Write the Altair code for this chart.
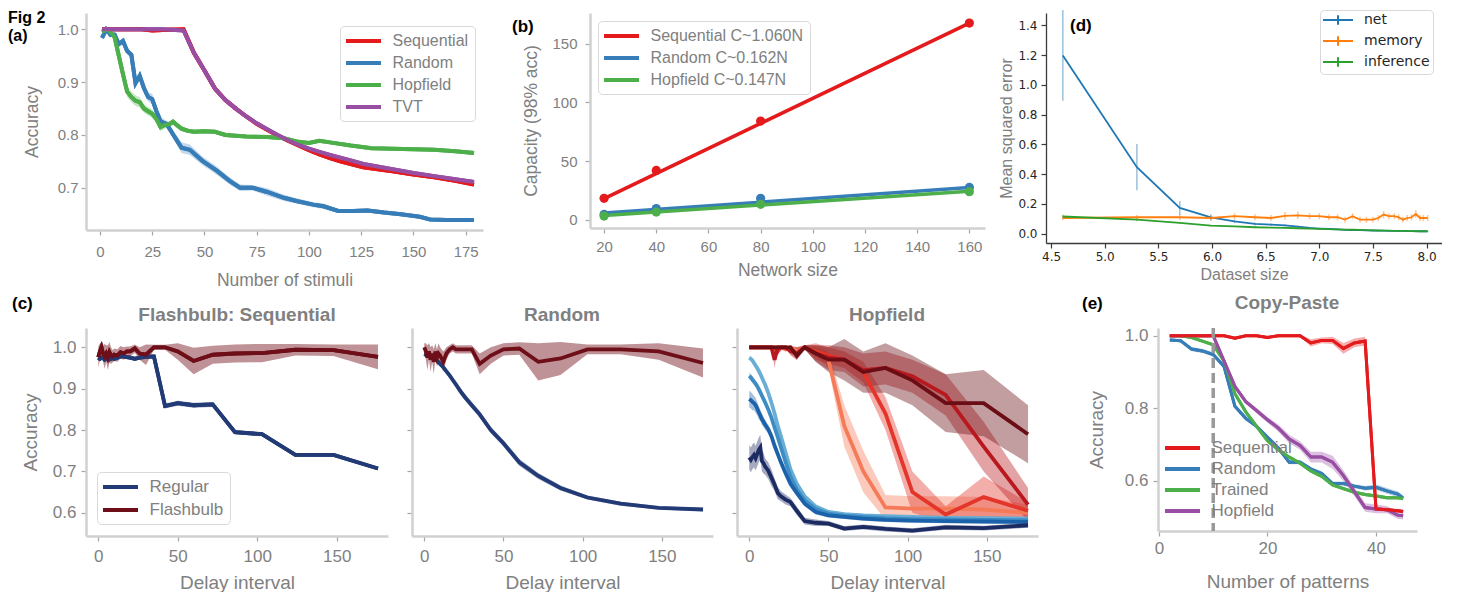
import altair as alt
import pandas as pd

FONT = "Liberation Sans"
GRAY = "#808080"
RED, BLUE, GREEN, PURPLE = "#e41a1c", "#377eb8", "#4daf4a", "#984ea3"

# ---------------- (a) Accuracy vs number of stimuli ----------------
A_NAMES = ["Sequential", "Random", "Hopfield", "TVT"]
A_XTICKS = [0, 25, 50, 75, 100, 125, 150, 175]
A_YTICKS = [0.7, 0.8, 0.9, 1.0]
A_SEQ_X = [1, 10, 20, 25, 30, 40, 45, 50, 55, 60, 65, 70, 75, 80, 85, 90, 95, 100, 105, 110, 115, 120, 126, 140, 150, 160, 170, 179]
A_SEQ_Y = [1.0, 1.0, 1.0, 0.998, 0.999, 1.0, 0.955, 0.922, 0.888, 0.866, 0.85, 0.835, 0.821, 0.81, 0.799, 0.789, 0.78, 0.771, 0.763, 0.756, 0.75, 0.745, 0.739, 0.731, 0.725, 0.72, 0.713, 0.706]
A_SEQ_E = [0.0, 0.0, 0.0, 0.002, 0.002, 0.0, 0.003, 0.003, 0.003, 0.003, 0.003, 0.003, 0.003, 0.003, 0.003, 0.003, 0.003, 0.003, 0.003, 0.003, 0.003, 0.003, 0.003, 0.003, 0.003, 0.003, 0.003, 0.003]
A_TVT_Y = [1.0, 1.0, 1.0, 1.0, 1.0, 0.998, 0.955, 0.922, 0.888, 0.866, 0.85, 0.835, 0.822, 0.811, 0.8, 0.79, 0.781, 0.774, 0.768, 0.762, 0.757, 0.752, 0.745, 0.735, 0.728, 0.722, 0.716, 0.711]
A_TVT_E = [0.0, 0.0, 0.0, 0.0, 0.0, 0.0, 0.003, 0.003, 0.003, 0.003, 0.003, 0.003, 0.003, 0.003, 0.003, 0.003, 0.003, 0.003, 0.003, 0.003, 0.003, 0.003, 0.003, 0.003, 0.003, 0.003, 0.003, 0.003]
A_RND_X = [1, 3, 5, 7, 9, 11, 13, 15, 17, 19, 21, 23, 25, 27, 29, 32, 35, 39, 43, 49, 56, 62, 67, 73, 80, 88, 94, 102, 107, 114, 121, 128, 136, 144, 153, 158, 166, 179]
A_RND_Y = [0.984, 1.0, 0.99, 0.99, 0.972, 0.978, 0.959, 0.952, 0.898, 0.912, 0.889, 0.872, 0.868, 0.845, 0.826, 0.82, 0.801, 0.776, 0.772, 0.751, 0.732, 0.713, 0.7, 0.7, 0.692, 0.681, 0.675, 0.668, 0.665, 0.656, 0.656, 0.657, 0.653, 0.65, 0.645, 0.64, 0.639, 0.639]
A_RND_E = [0.005, 0.005, 0.005, 0.005, 0.005, 0.006, 0.006, 0.006, 0.007, 0.007, 0.007, 0.008, 0.01, 0.008, 0.007, 0.007, 0.008, 0.01, 0.01, 0.008, 0.008, 0.007, 0.006, 0.005, 0.007, 0.006, 0.005, 0.005, 0.005, 0.004, 0.004, 0.004, 0.004, 0.004, 0.003, 0.003, 0.003, 0.003]
A_HOP_X = [1, 3, 5, 7, 9, 11, 13, 15, 17, 19, 21, 23, 25, 27, 29, 31, 33, 35, 37, 39, 42, 45, 50, 55, 60, 70, 80, 88, 95, 100, 105, 110, 120, 130, 140, 150, 160, 170, 179]
A_HOP_Y = [0.995, 1.0, 0.995, 0.985, 0.95, 0.915, 0.882, 0.872, 0.865, 0.862, 0.85, 0.845, 0.84, 0.83, 0.815, 0.819, 0.82, 0.825, 0.818, 0.812, 0.808, 0.806, 0.807, 0.806, 0.8, 0.797, 0.796, 0.794, 0.787, 0.785, 0.789, 0.786, 0.78, 0.775, 0.774, 0.773, 0.772, 0.769, 0.766]
A_HOP_E = [0.003, 0.003, 0.004, 0.005, 0.008, 0.01, 0.01, 0.01, 0.01, 0.01, 0.008, 0.008, 0.008, 0.008, 0.008, 0.007, 0.006, 0.006, 0.005, 0.005, 0.004, 0.004, 0.004, 0.004, 0.004, 0.003, 0.003, 0.003, 0.003, 0.003, 0.003, 0.003, 0.003, 0.003, 0.003, 0.003, 0.003, 0.003, 0.003]

# ---------------- (b) Capacity vs network size ----------------
B_NAMES = ["Sequential C~1.060N", "Random C~0.162N", "Hopfield C~0.147N"]
B_XTICKS = [20, 40, 60, 80, 100, 120, 140, 160]
B_YTICKS = [0, 50, 100, 150]
B_N = [20, 40, 80, 160]
B_SEQ = [18.2, 42.0, 84.1, 167.6]
B_RND = [4.5, 9.5, 18.2, 27.5]
B_HOP = [3.1, 6.5, 13.1, 23.9]
B_FIT_N = [20, 160]
B_FIT_SEQ = [18.0, 167.6]
B_FIT_RND = [5.6, 27.4]
B_FIT_HOP = [3.6, 24.3]

# ---------------- (d) MSE vs dataset size ----------------
D_NAMES = ["net", "memory", "inference"]
D_XTICKS = [4.5, 5.0, 5.5, 6.0, 6.5, 7.0, 7.5, 8.0]
D_YTICKS = [0.0, 0.2, 0.4, 0.6, 0.8, 1.0, 1.2, 1.4]
D_X = [4.61, 5.30, 5.70, 5.99, 6.21, 6.40, 6.55, 6.68, 6.80, 6.91, 7.00, 7.09, 7.17, 7.24, 7.31, 7.38, 7.44, 7.50, 7.55, 7.60, 7.65, 7.70, 7.74, 7.78, 7.82, 7.86, 7.90, 7.94, 7.97, 8.01]
D_NET = [1.198, 0.447, 0.173, 0.11, 0.083, 0.065, 0.06, 0.056, 0.047, 0.038, 0.034, 0.031, 0.028, 0.025, 0.024, 0.023, 0.022, 0.021, 0.02, 0.02, 0.019, 0.019, 0.018, 0.018, 0.017, 0.017, 0.017, 0.016, 0.016, 0.016]
D_NET_E = [0.305, 0.155, 0.047, 0.02, 0.012, 0.01, 0.008, 0.007, 0.006, 0.005, 0.005, 0.004, 0.004, 0.004, 0.004, 0.003, 0.003, 0.003, 0.003, 0.003, 0.003, 0.003, 0.003, 0.003, 0.003, 0.003, 0.003, 0.003, 0.003, 0.003]
D_MEM = [0.105, 0.11, 0.11, 0.105, 0.117, 0.11, 0.105, 0.12, 0.123, 0.117, 0.117, 0.11, 0.11, 0.094, 0.117, 0.094, 0.094, 0.094, 0.105, 0.128, 0.117, 0.117, 0.11, 0.094, 0.105, 0.11, 0.132, 0.105, 0.105, 0.105]
D_MEM_E = [0.015, 0.015, 0.02, 0.02, 0.02, 0.02, 0.02, 0.025, 0.025, 0.02, 0.02, 0.02, 0.02, 0.02, 0.02, 0.02, 0.02, 0.02, 0.02, 0.025, 0.02, 0.02, 0.02, 0.02, 0.02, 0.02, 0.025, 0.02, 0.02, 0.02]
D_INF = [0.115, 0.094, 0.072, 0.054, 0.049, 0.043, 0.04, 0.038, 0.036, 0.034, 0.032, 0.03, 0.028, 0.027, 0.026, 0.025, 0.024, 0.022, 0.021, 0.02, 0.02, 0.019, 0.018, 0.018, 0.017, 0.017, 0.016, 0.016, 0.016, 0.015]
D_INF_E = [0.012, 0.01, 0.006, 0.004, 0.003, 0.003, 0.003, 0.003, 0.003, 0.003, 0.002, 0.002, 0.002, 0.002, 0.002, 0.002, 0.002, 0.002, 0.002, 0.002, 0.002, 0.002, 0.002, 0.002, 0.002, 0.002, 0.002, 0.002, 0.002, 0.002]

# ---------------- (c) Flashbulb panels ----------------
C_XTICKS = [0, 50, 100, 150]
C_YTICKS = [0.6, 0.7, 0.8, 0.9, 1.0]
DELAYS = [0, 1, 2, 3, 4, 5, 6, 7, 8, 9, 10, 12, 14, 16, 18, 20, 23, 26, 30, 35, 42, 50, 60, 72, 86, 103, 124, 148, 176]
C1_REG = [0.975, 0.972, 0.975, 0.974, 0.97, 0.973, 0.975, 0.971, 0.972, 0.975, 0.972, 0.975, 0.978, 0.978, 0.976, 0.975, 0.972, 0.975, 0.977, 0.978, 0.858, 0.865, 0.86, 0.862, 0.795, 0.79, 0.74, 0.74, 0.707]
C1_REG_E = [0.006, 0.006, 0.006, 0.006, 0.006, 0.006, 0.006, 0.006, 0.006, 0.006, 0.005, 0.005, 0.005, 0.005, 0.005, 0.005, 0.005, 0.005, 0.005, 0.005, 0.006, 0.006, 0.006, 0.006, 0.005, 0.005, 0.004, 0.004, 0.004]
C1_FB = [0.976, 0.99, 1.0, 0.985, 0.978, 0.985, 0.975, 0.988, 0.98, 0.978, 0.982, 0.98, 0.988, 0.985, 0.99, 0.99, 0.997, 0.985, 0.982, 1.0, 1.0, 0.99, 0.967, 0.982, 0.985, 0.986, 0.994, 0.993, 0.977]
C1_FB_E = [0.025, 0.02, 0.012, 0.02, 0.03, 0.02, 0.03, 0.025, 0.02, 0.015, 0.015, 0.015, 0.015, 0.015, 0.012, 0.012, 0.01, 0.015, 0.025, 0.006, 0.006, 0.02, 0.032, 0.022, 0.022, 0.022, 0.014, 0.014, 0.03]
C2_REG = [0.984, 0.982, 0.98, 0.978, 0.976, 0.974, 0.972, 0.97, 0.968, 0.964, 0.96, 0.952, 0.942, 0.932, 0.921, 0.91, 0.893, 0.878, 0.86, 0.838, 0.8, 0.768, 0.722, 0.689, 0.66, 0.637, 0.622, 0.612, 0.608]
C2_REG_E = [0.006, 0.006, 0.006, 0.006, 0.006, 0.006, 0.006, 0.006, 0.006, 0.006, 0.006, 0.007, 0.007, 0.007, 0.007, 0.008, 0.008, 0.008, 0.008, 0.008, 0.008, 0.008, 0.008, 0.007, 0.006, 0.005, 0.005, 0.004, 0.004]
C2_FB = [1.0, 0.99, 0.975, 0.99, 0.97, 0.985, 0.965, 0.99, 0.975, 0.985, 0.98, 0.965, 0.985, 0.995, 1.0, 0.995, 0.995, 0.995, 0.995, 0.96, 0.98, 0.995, 0.997, 0.965, 0.973, 0.995, 0.995, 0.99, 0.962]
C2_FB_E = [0.01, 0.02, 0.03, 0.02, 0.03, 0.02, 0.03, 0.02, 0.02, 0.025, 0.02, 0.025, 0.015, 0.01, 0.01, 0.01, 0.01, 0.01, 0.01, 0.025, 0.02, 0.015, 0.015, 0.045, 0.04, 0.012, 0.012, 0.02, 0.035]
C3_NAMES = ["B1", "B2", "B3", "B4", "R1", "R2", "R3", "R4"]
C3_COLORS = ["#6aaed6", "#3d8dc4", "#1c62ab", "#1d2b63", "#f47a58", "#e3352a", "#b8181e", "#6a0d14"]
C3_B1 = [0.975, 0.972, 0.968, 0.962, 0.956, 0.95, 0.943, 0.935, 0.927, 0.918, 0.91, 0.89, 0.866, 0.84, 0.81, 0.785, 0.745, 0.705, 0.67, 0.64, 0.615, 0.602, 0.597, 0.594, 0.592, 0.59, 0.588, 0.587, 0.586]
C3_B1_E = [0.006, 0.006, 0.006, 0.006, 0.006, 0.006, 0.006, 0.006, 0.006, 0.006, 0.006, 0.006, 0.006, 0.006, 0.006, 0.006, 0.006, 0.006, 0.005, 0.005, 0.005, 0.004, 0.004, 0.004, 0.004, 0.004, 0.004, 0.004, 0.004]
C3_B2 = [0.931, 0.927, 0.922, 0.917, 0.912, 0.906, 0.899, 0.891, 0.883, 0.875, 0.867, 0.85, 0.83, 0.806, 0.783, 0.758, 0.722, 0.688, 0.656, 0.63, 0.609, 0.598, 0.593, 0.59, 0.587, 0.585, 0.584, 0.583, 0.582]
C3_B2_E = [0.008, 0.008, 0.008, 0.008, 0.008, 0.008, 0.008, 0.008, 0.008, 0.008, 0.008, 0.008, 0.008, 0.008, 0.008, 0.007, 0.007, 0.007, 0.006, 0.006, 0.005, 0.005, 0.004, 0.004, 0.004, 0.004, 0.004, 0.004, 0.004]
C3_B3 = [0.875, 0.872, 0.868, 0.865, 0.86, 0.852, 0.843, 0.835, 0.826, 0.82, 0.813, 0.802, 0.785, 0.762, 0.742, 0.722, 0.695, 0.67, 0.648, 0.622, 0.602, 0.594, 0.59, 0.586, 0.583, 0.581, 0.58, 0.579, 0.578]
C3_B3_E = [0.02, 0.02, 0.02, 0.018, 0.018, 0.016, 0.016, 0.014, 0.014, 0.012, 0.012, 0.01, 0.01, 0.01, 0.01, 0.008, 0.008, 0.008, 0.008, 0.006, 0.006, 0.005, 0.005, 0.005, 0.005, 0.005, 0.005, 0.005, 0.005]
C3_B4 = [0.734, 0.728, 0.735, 0.74, 0.732, 0.742, 0.752, 0.758, 0.725, 0.72, 0.712, 0.702, 0.685, 0.668, 0.648, 0.64, 0.632, 0.626, 0.605, 0.58, 0.576, 0.574, 0.562, 0.566, 0.561, 0.557, 0.565, 0.563, 0.57]
C3_B4_E = [0.03, 0.03, 0.03, 0.03, 0.03, 0.03, 0.03, 0.03, 0.025, 0.025, 0.02, 0.02, 0.02, 0.015, 0.015, 0.012, 0.012, 0.01, 0.01, 0.008, 0.008, 0.006, 0.006, 0.006, 0.006, 0.006, 0.006, 0.006, 0.006]
C3_R1 = [1.0, 1.0, 1.0, 1.0, 1.0, 1.0, 1.0, 1.0, 1.0, 1.0, 1.0, 1.0, 1.0, 0.995, 1.0, 1.0, 0.995, 1.0, 0.99, 0.998, 0.99, 0.97, 0.81, 0.7, 0.613, 0.61, 0.61, 0.608, 0.6]
C3_R1_E = [0.0, 0.0, 0.0, 0.0, 0.0, 0.0, 0.0, 0.0, 0.0, 0.0, 0.0, 0.0, 0.0, 0.005, 0.0, 0.0, 0.005, 0.0, 0.01, 0.004, 0.01, 0.02, 0.05, 0.05, 0.03, 0.03, 0.03, 0.03, 0.02]
C3_R2 = [1.0, 1.0, 1.0, 1.0, 1.0, 1.0, 1.0, 1.0, 1.0, 1.0, 1.0, 1.0, 1.0, 1.0, 0.99, 1.0, 1.0, 0.995, 0.985, 1.0, 0.99, 0.98, 0.97, 0.94, 0.84, 0.65, 0.596, 0.638, 0.605]
C3_R2_E = [0.0, 0.0, 0.0, 0.0, 0.0, 0.0, 0.0, 0.0, 0.0, 0.0, 0.0, 0.0, 0.0, 0.0, 0.01, 0.0, 0.0, 0.01, 0.015, 0.005, 0.02, 0.02, 0.02, 0.025, 0.04, 0.05, 0.02, 0.05, 0.02]
C3_R3 = [1.0, 1.0, 1.0, 1.0, 1.0, 1.0, 1.0, 1.0, 1.0, 1.0, 1.0, 1.0, 1.0, 0.97, 1.0, 1.0, 1.0, 0.99, 0.985, 1.0, 0.985, 0.975, 0.97, 0.945, 0.95, 0.93, 0.885, 0.76, 0.62]
C3_R3_E = [0.0, 0.0, 0.0, 0.0, 0.0, 0.0, 0.0, 0.0, 0.0, 0.0, 0.0, 0.0, 0.0, 0.02, 0.0, 0.0, 0.0, 0.01, 0.015, 0.005, 0.02, 0.03, 0.03, 0.04, 0.04, 0.04, 0.05, 0.06, 0.04]
C3_R4 = [1.0, 1.0, 1.0, 1.0, 1.0, 1.0, 1.0, 1.0, 1.0, 1.0, 1.0, 1.0, 1.0, 1.0, 1.0, 1.0, 1.0, 1.0, 0.98, 1.0, 0.985, 0.97, 0.97, 0.94, 0.95, 0.92, 0.865, 0.865, 0.79]
C3_R4_E = [0.0, 0.0, 0.0, 0.0, 0.0, 0.0, 0.0, 0.0, 0.0, 0.0, 0.0, 0.0, 0.0, 0.0, 0.0, 0.0, 0.0, 0.0, 0.01, 0.005, 0.02, 0.03, 0.05, 0.05, 0.06, 0.06, 0.07, 0.08, 0.07]

# ---------------- (e) Copy-Paste ----------------
E_NAMES = ["Sequential", "Random", "Trained", "Hopfield"]
E_XTICKS = [0, 20, 40]
E_YTICKS = [0.6, 0.8, 1.0]
E_X = [2, 4, 6, 8, 10, 12, 14, 16, 18, 20, 22, 24, 26, 28, 30, 32, 34, 36, 38, 40, 42, 44, 45]
E_SEQ = [1.0, 1.0, 1.0, 1.0, 1.0, 1.0, 0.993, 1.0, 1.0, 0.995, 1.0, 1.0, 1.0, 0.98, 0.987, 0.987, 0.965, 0.98, 0.985, 0.522, 0.52, 0.517, 0.515]
E_SEQ_E = [0.0, 0.0, 0.0, 0.0, 0.0, 0.0, 0.004, 0.0, 0.0, 0.004, 0.0, 0.0, 0.003, 0.01, 0.008, 0.01, 0.015, 0.012, 0.012, 0.005, 0.005, 0.005, 0.005]
E_RND = [0.988, 0.986, 0.963, 0.958, 0.948, 0.915, 0.805, 0.772, 0.75, 0.72, 0.69, 0.651, 0.651, 0.632, 0.62, 0.592, 0.592, 0.585, 0.579, 0.582, 0.572, 0.563, 0.552]
E_RND_E = [0.004, 0.004, 0.006, 0.006, 0.006, 0.006, 0.006, 0.006, 0.006, 0.006, 0.006, 0.006, 0.006, 0.006, 0.006, 0.006, 0.006, 0.006, 0.006, 0.008, 0.008, 0.008, 0.008]
E_TRN = [1.0, 1.0, 0.995, 0.985, 0.975, 0.93, 0.84, 0.79, 0.75, 0.71, 0.685, 0.665, 0.648, 0.627, 0.612, 0.588, 0.578, 0.568, 0.562, 0.558, 0.553, 0.553, 0.551]
E_TRN_E = [0.0, 0.0, 0.003, 0.004, 0.004, 0.005, 0.005, 0.005, 0.005, 0.005, 0.005, 0.005, 0.005, 0.005, 0.005, 0.005, 0.005, 0.005, 0.005, 0.005, 0.005, 0.005, 0.005]
E_HOP = [1.0, 1.0, 1.0, 1.0, 1.0, 0.93, 0.86, 0.818, 0.793, 0.768, 0.745, 0.715, 0.697, 0.665, 0.665, 0.651, 0.614, 0.57, 0.526, 0.522, 0.52, 0.505, 0.503]
E_HOP_E = [0.0, 0.0, 0.0, 0.0, 0.0, 0.005, 0.005, 0.006, 0.008, 0.008, 0.01, 0.012, 0.012, 0.015, 0.015, 0.018, 0.015, 0.012, 0.012, 0.012, 0.01, 0.01, 0.01]
E_MARK = [10]

ONE = pd.DataFrame({"k": [0]})


def long_df(series):
    rows = []
    for name, xs, ys, es in series:
        if es is None:
            es = [0.0] * len(xs)
        for x, y, e in zip(xs, ys, es):
            rows.append({"s": name, "x": x, "y": y, "lo": y - e, "hi": y + e})
    return pd.DataFrame(rows)


def text(s, x, y, size=17, color="black", align="left", baseline="top", weight="bold", font=FONT, lh=None):
    kw = dict(text=s, align=align, baseline=baseline, fontSize=size, fontWeight=weight, color=color, font=font)
    if lh:
        kw["lineHeight"] = lh
    return alt.Chart(ONE).mark_text(**kw).encode(x=alt.value(x), y=alt.value(y))


def spacer(w):
    return alt.Chart(ONE).mark_point(opacity=0).encode(
        x=alt.value(0), y=alt.value(0)).properties(width=w, height=10)


def lines_with_bands(df, xs, ys, cs, xax, yax, legend, lw, band_op):
    x = alt.X("x:Q", scale=xs, axis=xax)
    layers = []
    if legend is not None:
        # first layer carries the legend (its settings win when layers merge)
        layers.append(alt.Chart(df).mark_line(strokeWidth=lw).encode(
            x=x, y=alt.Y("y:Q", scale=ys, axis=yax),
            color=alt.Color("s:N", scale=cs, legend=legend)))
    layers.append(alt.Chart(df).mark_area(opacity=band_op).encode(
        x=x, y=alt.Y("lo:Q", scale=ys, axis=yax, stack=None), y2="hi:Q",
        color=alt.Color("s:N", scale=cs, legend=None)))
    layers.append(alt.Chart(df).mark_line(strokeWidth=lw).encode(
        x=x, y=alt.Y("y:Q", scale=ys, axis=yax),
        color=alt.Color("s:N", scale=cs, legend=None)))
    return layers


def leg(x, y, fs, sw=4, row=5, box=True, font=FONT, color=GRAY, path="M-2.5,0H2.5", size=196,
        soff=8.5, loff=20, pad=6):
    kw = dict(title=None, orient="none", legendX=x, legendY=y, symbolType=path, symbolSize=size,
              symbolStrokeWidth=sw, symbolOffset=soff, labelOffset=loff, labelFont=font,
              labelColor=color, labelFontSize=fs, rowPadding=row, padding=pad)
    if box:
        kw.update(strokeColor="#d9d9d9", fillColor="white", cornerRadius=4)
    return alt.Legend(**kw)


def axis(values, title, lfs, tfs, lp, tp, fmt=None, labels=True, **extra):
    kw = dict(values=values, title=title, labelFontSize=lfs, titleFontSize=tfs,
              labelPadding=lp, titlePadding=tp, labels=labels)
    if fmt:
        kw["format"] = fmt
    kw.update(extra)
    return alt.Axis(**kw)


# ---------- panel (a)
a_df = long_df([("Sequential", A_SEQ_X, A_SEQ_Y, A_SEQ_E), ("Random", A_RND_X, A_RND_Y, A_RND_E),
                ("Hopfield", A_HOP_X, A_HOP_Y, A_HOP_E), ("TVT", A_SEQ_X, A_TVT_Y, A_TVT_E)])
a_xs = alt.Scale(domain=[-6.7, 183.3], nice=False, zero=False)
a_ys = alt.Scale(domain=[0.62, 1.031], nice=False, zero=False)
a_cs = alt.Scale(domain=A_NAMES, range=[RED, BLUE, GREEN, PURPLE])
a_xax = axis(A_XTICKS, "Number of stimuli", 15, 17.5, 9, 12)
a_yax = axis(A_YTICKS, "Accuracy", 15, 17.5, 3, 16, fmt=".1f")
panel_a = alt.layer(*lines_with_bands(a_df, a_xs, a_ys, a_cs, a_xax, a_yax, leg(254, 13, 16), 4, 0.3),
                    text(["Fig 2", "(a)"], -78, -3, size=16, lh=18.2)).properties(width=397, height=217)

# ---------- panel (b)
b_pts = long_df([(B_NAMES[0], B_N, B_SEQ, None), (B_NAMES[1], B_N, B_RND, None), (B_NAMES[2], B_N, B_HOP, None)])
b_fit = long_df([(B_NAMES[0], B_FIT_N, B_FIT_SEQ, None), (B_NAMES[1], B_FIT_N, B_FIT_RND, None),
                 (B_NAMES[2], B_FIT_N, B_FIT_HOP, None)])
b_xs = alt.Scale(domain=[14.6, 166], nice=False, zero=False)
b_ys = alt.Scale(domain=[-7.1, 176.2], nice=False, zero=False)
b_cs = alt.Scale(domain=B_NAMES, range=[RED, BLUE, GREEN])
b_xax = axis(B_XTICKS, "Network size", 15, 17.5, 6.5, 7)
b_yax = axis(B_YTICKS, "Capacity (98% acc)", 15, 17.5, 8, 11)
b_line = alt.Chart(b_fit).mark_line(strokeWidth=3.5).encode(
    x=alt.X("x:Q", scale=b_xs, axis=b_xax), y=alt.Y("y:Q", scale=b_ys, axis=b_yax),
    color=alt.Color("s:N", scale=b_cs, legend=leg(8, 8, 16)))
b_dot = alt.Chart(b_pts).mark_circle(size=85, opacity=1).encode(
    x=alt.X("x:Q", scale=b_xs, axis=b_xax), y=alt.Y("y:Q", scale=b_ys, axis=b_yax),
    color=alt.Color("s:N", scale=b_cs, legend=None))
panel_b = alt.layer(b_line, b_dot, text("(b)", -78, 6)).properties(width=395, height=215)

# ---------- panel (d)
d_df = long_df([("net", D_X, D_NET, D_NET_E), ("memory", D_X, D_MEM, D_MEM_E), ("inference", D_X, D_INF, D_INF_E)])
d_xs = alt.Scale(domain=[4.453, 8.144], nice=False, zero=False)
d_ys = alt.Scale(domain=[-0.063, 1.483], nice=False, zero=False)
d_cs = alt.Scale(domain=D_NAMES, range=["#1f77b4", "#ff7f0e", "#2ca02c"])
d_style = dict(domainColor="#3a3a3a", domainWidth=1.3, tickColor="#3a3a3a", labelColor="#262626",
               labelFont="DejaVu Sans")
d_xax = axis(D_XTICKS, "Dataset size", 12, 16, 3, 4, fmt=".1f", **d_style)
d_yax = axis(D_YTICKS, "Mean squared error", 12, 16, 4, 3, fmt=".1f", **d_style)
d_line = alt.Chart(d_df).mark_line(strokeWidth=1.8).encode(
    x=alt.X("x:Q", scale=d_xs, axis=d_xax), y=alt.Y("y:Q", scale=d_ys, axis=d_yax),
    color=alt.Color("s:N", scale=d_cs,
                    legend=leg(274, -3, 14, sw=2, row=3, font="DejaVu Sans", color="#262626",
                               path="M-2.5,0H2.5M0,-0.8V0.8", size=144, soff=8, loff=19, pad=3)))
d_err = alt.Chart(d_df).mark_rule(strokeWidth=1.5, opacity=0.45).encode(
    x=alt.X("x:Q", scale=d_xs, axis=d_xax), y=alt.Y("lo:Q", scale=d_ys, axis=d_yax), y2="hi:Q",
    color=alt.Color("s:N", scale=d_cs, legend=None))
panel_d = alt.layer(d_line, d_err, text("(d)", 24, 5)).properties(width=396, height=230)

# ---------- panels (c)
c_xs = alt.Scale(domain=[-7.74, 182.3], nice=False, zero=False)
c_ys = alt.Scale(domain=[0.544, 1.0466], nice=False, zero=False)
c_cs = alt.Scale(domain=["Regular", "Flashbulb"], range=["#223a75", "#6e0e18"])
c_xax = axis(C_XTICKS, "Delay interval", 17, 19, 7, 9)
c1_yax = axis(C_YTICKS, "Accuracy", 17, 19, 5, 12, fmt=".1f")
c_yax_nolab = axis(C_YTICKS, "", 17, 19, 5, 12, labels=False)
TCOL = GRAY

c1_df = long_df([("Regular", DELAYS, C1_REG, C1_REG_E), ("Flashbulb", DELAYS, C1_FB, C1_FB_E)])
panel_c1 = alt.layer(*lines_with_bands(c1_df, c_xs, c_ys, c_cs, c_xax, c1_yax, leg(11, 144, 17, row=6), 3.8, 0.45),
                     text("(c)", -74, -32),
                     text("Flashbulb: Sequential", 151, -13, size=19, color=TCOL, align="center", baseline="middle")
                     ).properties(width=302, height=208)

c2_df = long_df([("Regular", DELAYS, C2_REG, C2_REG_E), ("Flashbulb", DELAYS, C2_FB, C2_FB_E)])
panel_c2 = alt.layer(*lines_with_bands(c2_df, c_xs, c_ys, c_cs, c_xax, c_yax_nolab, None, 3.8, 0.45),
                     text("Random", 150, -13, size=19, color=TCOL, align="center", baseline="middle")
                     ).properties(width=301, height=208)

c3_df = long_df([("B1", DELAYS, C3_B1, C3_B1_E), ("B2", DELAYS, C3_B2, C3_B2_E), ("B3", DELAYS, C3_B3, C3_B3_E),
                 ("B4", DELAYS, C3_B4, C3_B4_E), ("R1", DELAYS, C3_R1, C3_R1_E), ("R2", DELAYS, C3_R2, C3_R2_E),
                 ("R3", DELAYS, C3_R3, C3_R3_E), ("R4", DELAYS, C3_R4, C3_R4_E)])
c3_cs = alt.Scale(domain=C3_NAMES, range=C3_COLORS)
panel_c3 = alt.layer(*lines_with_bands(c3_df, c_xs, c_ys, c3_cs, c_xax, c_yax_nolab, None, 3.8, 0.4),
                     text("Hopfield", 150, -13, size=19, color=TCOL, align="center", baseline="middle")
                     ).properties(width=301, height=208)

# ---------- panel (e)
e_df = long_df([("Random", E_X, E_RND, E_RND_E), ("Trained", E_X, E_TRN, E_TRN_E),
                ("Hopfield", E_X, E_HOP, E_HOP_E), ("Sequential", E_X, E_SEQ, E_SEQ_E)])
e_xs = alt.Scale(domain=[-0.18, 47.56], nice=False, zero=False)
e_ys = alt.Scale(domain=[0.4612, 1.0212], nice=False, zero=False)
e_cs = alt.Scale(domain=E_NAMES, range=[RED, BLUE, GREEN, PURPLE])
e_xax = axis(E_XTICKS, "Number of patterns", 17, 19, 4, 16)
e_yax = axis(E_YTICKS, "Accuracy", 17, 19, 5, 18, fmt=".1f")
e_mark = alt.Chart(pd.DataFrame({"x": E_MARK})).mark_rule(color="#999999", strokeWidth=3.5, strokeDash=[10, 5]).encode(
    x=alt.X("x:Q", scale=e_xs, axis=e_xax))
panel_e = alt.layer(*lines_with_bands(e_df, e_xs, e_ys, e_cs, e_xax, e_yax,
                                      leg(7, 111, 17, sw=4, row=4, box=False, pad=0), 3, 0.35),
                    e_mark, text("(e)", -76, -32),
                    text("Copy-Paste", 129, -25, size=19, color=TCOL, align="center", baseline="middle")
                    ).properties(width=259, height=203)

IND = dict(x="independent", y="independent", color="independent")

row1 = alt.hconcat(panel_a, spacer(107), panel_b, spacer(61), panel_d, spacing=0, bounds="flush"
                   ).resolve_scale(**IND).resolve_legend(color="independent")
row2 = alt.hconcat(panel_c1, spacer(24), panel_c2, spacer(24), panel_c3, spacer(120), panel_e,
                   spacing=0, bounds="flush").resolve_scale(**IND).resolve_legend(color="independent")

chart = (alt.vconcat(row1, row2, spacing=5)
         .resolve_scale(**IND).resolve_legend(color="independent")
         .properties(padding={"left": 0, "top": 1, "right": 0, "bottom": 0})
         .configure_view(stroke=None)
         .configure_axis(grid=False, domainColor="#d0d0d0", domainWidth=2.5, tickColor="#a6a6a6",
                         tickWidth=1.2, tickSize=5, labelColor=GRAY, titleColor=GRAY, labelFont=FONT,
                         titleFont=FONT, titleFontWeight="normal", labelFlush=False, labelOverlap=False))

chart.save("out.html", embed_options={"renderer": "svg", "actions": False})
